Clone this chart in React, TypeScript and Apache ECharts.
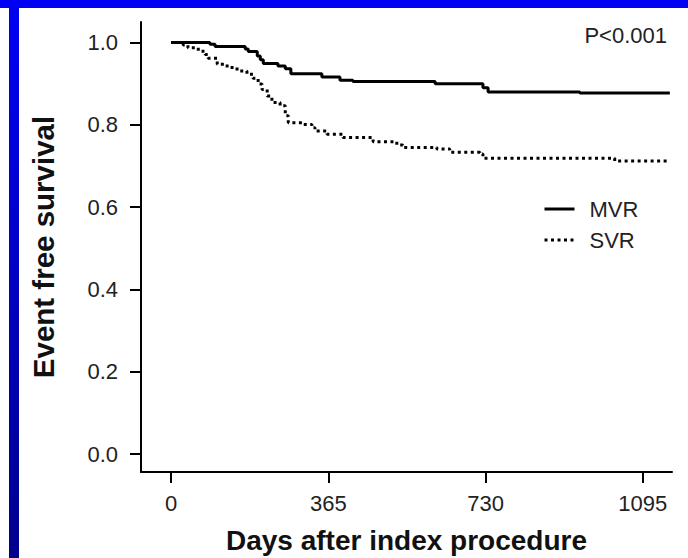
import React, { useEffect, useRef } from 'react';
import * as echarts from 'echarts';

const dayTicks = [0, 365, 730, 1095];
const survivalTicks = [0, 0.2, 0.4, 0.6, 0.8, 1.0];

const mvrDays = [0, 90, 102, 172, 179, 200, 207, 214, 248, 265, 278, 350, 392, 422, 613, 724, 736, 949, 1158];
const mvrSurv = [1.0, 0.996, 0.99, 0.984, 0.978, 0.967, 0.958, 0.949, 0.943, 0.936, 0.924, 0.916, 0.908, 0.905, 0.9, 0.89, 0.88, 0.877, 0.877];

const svrDays = [0, 28, 39, 63, 79, 86, 107, 130, 153, 176, 190, 202, 211, 223, 234, 253, 265, 272, 306, 327, 334, 362, 399, 469, 524, 538, 617, 647, 717, 724, 1030, 1158];
const svrSurv = [1.0, 0.994, 0.987, 0.979, 0.971, 0.962, 0.947, 0.939, 0.931, 0.923, 0.913, 0.899, 0.886, 0.87, 0.854, 0.846, 0.822, 0.805, 0.801, 0.793, 0.785, 0.777, 0.769, 0.759, 0.751, 0.745, 0.741, 0.733, 0.729, 0.719, 0.712, 0.712];

const FONT = 'Liberation Sans';

export default function App() {
  const ref = useRef<HTMLDivElement>(null);
  useEffect(() => {
    const chart = echarts.init(ref.current!, null, { renderer: 'svg' });
    chart.setOption({
      animation: false,
      backgroundColor: '#ffffff',
      grid: { left: 141, right: 16, top: 22, bottom: 86, containLabel: false, outerBoundsMode: 'none' },
      xAxis: {
        type: 'value',
        min: -70,
        max: 1163,
        name: 'Days after index procedure',
        nameLocation: 'middle',
        nameGap: 54,
        nameTextStyle: { fontSize: 28, fontWeight: 'bold', fontFamily: FONT, color: '#111' },
        axisLine: { show: true, onZero: false, lineStyle: { color: '#000', width: 2 } },
        axisTick: { show: true, inside: false, length: 11, customValues: dayTicks, lineStyle: { color: '#000', width: 2 } },
        axisLabel: {
          customValues: dayTicks,
          margin: 20,
          fontSize: 22,
          fontFamily: FONT,
          color: '#222',
          formatter: (v: number) => String(v),
        },
        splitLine: { show: false },
      },
      yAxis: {
        type: 'value',
        min: -0.0437,
        max: 1.0498,
        name: 'Event free survival',
        nameLocation: 'middle',
        nameRotate: 90,
        nameGap: 83,
        nameTextStyle: { fontSize: 29.5, fontWeight: 'bold', fontFamily: FONT, color: '#111' },
        axisLine: { show: true, onZero: false, lineStyle: { color: '#000', width: 2 } },
        axisTick: { show: true, inside: false, length: 11, customValues: survivalTicks, lineStyle: { color: '#000', width: 2 } },
        axisLabel: {
          customValues: survivalTicks,
          margin: 23,
          fontSize: 22,
          fontFamily: FONT,
          color: '#222',
          formatter: (v: number) => v.toFixed(1),
        },
        splitLine: { show: false },
      },
      legend: {
        orient: 'vertical',
        left: 543,
        top: 198,
        padding: 0,
        itemWidth: 30,
        itemHeight: 22,
        itemGap: 9,
        itemStyle: { color: 'rgba(0,0,0,0)', borderWidth: 0 },
        lineStyle: { width: 3 },
        textStyle: { fontSize: 22, fontFamily: FONT, color: '#222', padding: [0, 0, 0, 10] },
        data: ['MVR', 'SVR'],
      },
      graphic: [
        { type: 'rect', shape: { x: 0, y: 0, width: 688, height: 8 }, style: { fill: '#0000f2' } },
        {
          type: 'rect',
          shape: { x: 9, y: 0, width: 10, height: 558 },
          style: {
            fill: new echarts.graphic.LinearGradient(0, 0, 0, 1, [
              { offset: 0, color: '#0000f5' },
              { offset: 1, color: '#00008f' },
            ]),
          },
        },
        {
          type: 'text',
          right: 21,
          top: 24,
          style: { text: 'P<0.001', fontSize: 22, fontFamily: FONT, fill: '#222' },
        },
      ],
      series: [
        {
          type: 'line',
          name: 'MVR',
          step: 'end',
          symbol: 'none',
          data: mvrDays.map((d, i) => [d, mvrSurv[i]]),
          lineStyle: { color: '#000', width: 3 },
          itemStyle: { color: 'rgba(0,0,0,0)' },
        },
        {
          type: 'line',
          name: 'SVR',
          step: 'end',
          symbol: 'none',
          data: svrDays.map((d, i) => [d, svrSurv[i]]),
          lineStyle: { color: '#000', width: 3, type: [3, 3.5] },
          itemStyle: { color: 'rgba(0,0,0,0)' },
        },
      ],
    });
    return () => chart.dispose();
  }, []);
  return <div ref={ref} style={{ position: 'fixed', left: 0, top: 0, width: 688, height: 558, background: '#fff' }} />;
}
